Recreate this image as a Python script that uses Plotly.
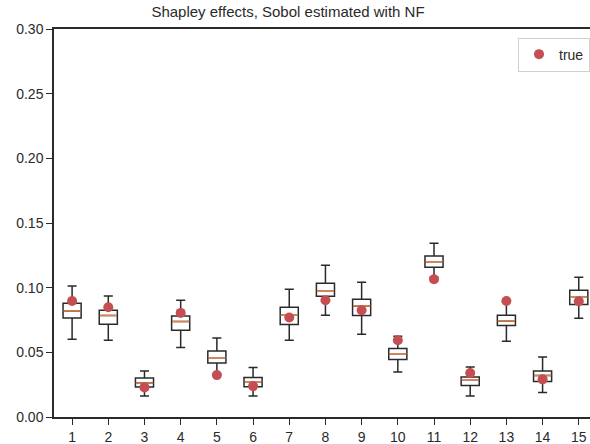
import plotly.graph_objects as go

positions = list(range(1, 16))
upper = [0.1013, 0.0936, 0.0355, 0.0903, 0.0610, 0.0383, 0.0988, 0.1173, 0.1042, 0.0625, 0.1343, 0.0386, 0.0890, 0.0463, 0.1080]
q3 =    [0.0880, 0.0826, 0.0301, 0.0780, 0.0510, 0.0306, 0.0849, 0.1034, 0.0910, 0.0530, 0.1245, 0.0309, 0.0787, 0.0355, 0.0980]
median =[0.0820, 0.0785, 0.0262, 0.0738, 0.0458, 0.0273, 0.0787, 0.0972, 0.0859, 0.0489, 0.1201, 0.0288, 0.0743, 0.0321, 0.0926]
q1 =    [0.0766, 0.0718, 0.0231, 0.0671, 0.0417, 0.0234, 0.0715, 0.0934, 0.0785, 0.0445, 0.1157, 0.0244, 0.0707, 0.0275, 0.0870]
lower = [0.0602, 0.0594, 0.0162, 0.0538, 0.0330, 0.0162, 0.0594, 0.0787, 0.0640, 0.0347, 0.1080, 0.0162, 0.0586, 0.0190, 0.0764]
true_vals = [0.0897, 0.0849, 0.0229, 0.0805, 0.0324, 0.0239, 0.0769, 0.0903, 0.0826, 0.0594, 0.1065, 0.0340, 0.0897, 0.0291, 0.0895]
yticks = [0.00, 0.05, 0.10, 0.15, 0.20, 0.25, 0.30]

ink = "#2a2a2a"
fig = go.Figure()
fig.add_trace(go.Box(
    x=positions, q1=q1, median=median, q3=q3, lowerfence=lower, upperfence=upper,
    width=0.5, whiskerwidth=0.5, fillcolor="white",
    line=dict(color=ink, width=1.5), showlegend=False, hoverinfo="skip",
    boxpoints=False,
))
mx, my = [], []
for p, m in zip(positions, median):
    mx += [p - 0.24, p + 0.24, None]
    my += [m, m, None]
fig.add_trace(go.Scatter(x=mx, y=my, mode="lines", line=dict(color="#DD8452", width=1.5),
                         showlegend=False, hoverinfo="skip"))
fig.add_trace(go.Scatter(x=positions, y=true_vals, mode="markers", name="true",
                         marker=dict(color="#C44E52", size=10)))

font = "Liberation Sans, Arial, sans-serif"
fig.update_layout(
    width=590, height=444,
    margin=dict(l=54, r=0, t=29, b=27),
    paper_bgcolor="white", plot_bgcolor="white",
    font=dict(family=font, size=14, color=ink),
    title=dict(text="Shapley effects, Sobol estimated with NF", x=288/590, xanchor="center",
               y=1 - 12/444, yanchor="middle", font=dict(size=15, color=ink)),
    legend=dict(x=1, xanchor="right", y=0.978, yanchor="top", bordercolor="#d0d0d0",
                borderwidth=1, bgcolor="white", font=dict(size=14, color=ink)),
    xaxis=dict(range=[0.5, 15.31], tickvals=positions, ticktext=[str(p) for p in positions],
               showline=True, linecolor=ink, linewidth=1.5, mirror=True, ticks="outside",
               ticklen=6, tickwidth=1.25, tickcolor=ink, showgrid=False, zeroline=False),
    yaxis=dict(range=[0, 0.30], tickvals=yticks, tickformat=".2f",
               showline=True, linecolor=ink, linewidth=1.5, ticks="outside",
               ticklen=6, tickwidth=1.25, tickcolor=ink, showgrid=False, zeroline=False),
)
fig.write_html("out.html")
